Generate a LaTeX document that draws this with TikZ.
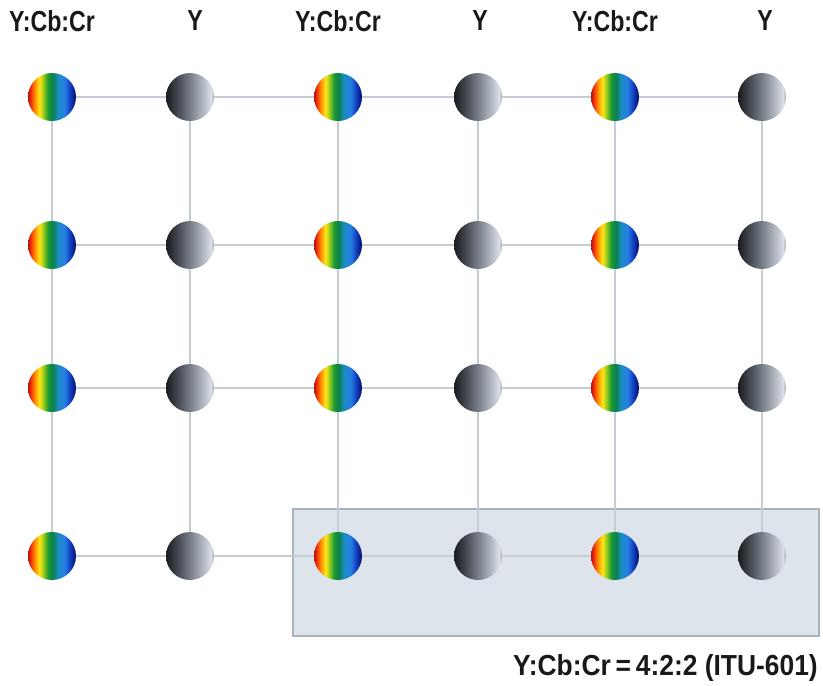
\documentclass[tikz,border=0pt]{standalone}
\usepackage{fontspec}
\setmainfont{Liberation Sans}
\newfontfamily\labfont{Liberation Sans}[FakeStretch=0.80]
\newfontfamily\capfont{Liberation Sans}[FakeStretch=0.91]
\definecolor{gridc}{RGB}{198,204,211}
\definecolor{hlfill}{RGB}{222,228,236}
\definecolor{hldraw}{RGB}{172,178,186}
\definecolor{labc}{RGB}{25,25,25}
\pgfdeclarehorizontalshading{rainbow}{100bp}{%
  rgb(0bp)=(0.70,0.05,0.05);
  rgb(25bp)=(0.70,0.05,0.05);
  rgb(28bp)=(0.95,0.20,0.05);
  rgb(32bp)=(1.00,0.55,0.00);
  rgb(37bp)=(1.00,0.90,0.10);
  rgb(41bp)=(0.60,0.80,0.10);
  rgb(46bp)=(0.10,0.60,0.20);
  rgb(51bp)=(0.05,0.50,0.30);
  rgb(56bp)=(0.10,0.55,0.75);
  rgb(63bp)=(0.15,0.50,0.90);
  rgb(70bp)=(0.05,0.20,0.70);
  rgb(75bp)=(0.02,0.05,0.40);
  rgb(100bp)=(0.02,0.05,0.40)}
\pgfdeclarehorizontalshading{greyball}{100bp}{%
  rgb(0bp)=(0.10,0.10,0.12);
  rgb(25bp)=(0.10,0.10,0.12);
  rgb(38bp)=(0.28,0.30,0.33);
  rgb(55bp)=(0.55,0.58,0.62);
  rgb(68bp)=(0.78,0.80,0.84);
  rgb(72bp)=(0.86,0.88,0.90);
  rgb(75bp)=(0.62,0.64,0.68);
  rgb(100bp)=(0.62,0.64,0.68)}
\tikzset{
  chroma/.style={circle, minimum size=48pt, inner sep=0pt, shade, shading=rainbow},
  luma/.style={circle, minimum size=48pt, inner sep=0pt, shade, shading=greyball},
  gridline/.style={draw=gridc, line width=1.5pt},
  lab/.style={font=\labfont\bfseries\fontsize{29}{32}\selectfont, text=labc, inner sep=0pt},
  caplab/.style={font=\capfont\bfseries\fontsize{29}{32}\selectfont, text=labc, inner sep=0pt},
  hlbox/.style={draw=hldraw, fill=hlfill, line width=1.5pt, minimum width=526pt, minimum height=127pt, inner sep=0pt, anchor=north west}
}
\begin{document}
\begin{tikzpicture}[x=1pt,y=-1pt]
\useasboundingbox (0,0) rectangle (823,686);
% highlight box
\node[hlbox] (hl) at (292,508) {};
% balls
\foreach \r/\yy in {1/97,2/245,3/388,4/556}{
  \node[chroma] (b-\r-1) at (52,\yy) {};
  \node[luma]   (b-\r-2) at (190,\yy) {};
  \node[chroma] (b-\r-3) at (338,\yy) {};
  \node[luma]   (b-\r-4) at (478,\yy) {};
  \node[chroma] (b-\r-5) at (615,\yy) {};
  \node[luma]   (b-\r-6) at (762,\yy) {};
}
% grid lines
\foreach \r in {1,...,4}{
  \foreach \c [evaluate=\c as \n using int(\c+1)] in {1,...,5}{
    \draw[gridline] (b-\r-\c) -- (b-\r-\n);
  }
}
\foreach \c in {1,...,6}{
  \foreach \r [evaluate=\r as \n using int(\r+1)] in {1,...,3}{
    \draw[gridline] (b-\r-\c) -- (b-\n-\c);
  }
}
% header labels
\node[lab] (h1) at (52,21) {Y:Cb:Cr};
\node[lab] (h2) at (195,21) {Y};
\node[lab] (h3) at (338,21) {Y:Cb:Cr};
\node[lab] (h4) at (480,21) {Y};
\node[lab] (h5) at (615,21) {Y:Cb:Cr};
\node[lab] (h6) at (765,21) {Y};
% caption
\node[caplab, anchor=east] (cap) at (818,668) {Y:Cb:Cr\,=\,4:2:2 (ITU-601)};
\end{tikzpicture}
\end{document}
